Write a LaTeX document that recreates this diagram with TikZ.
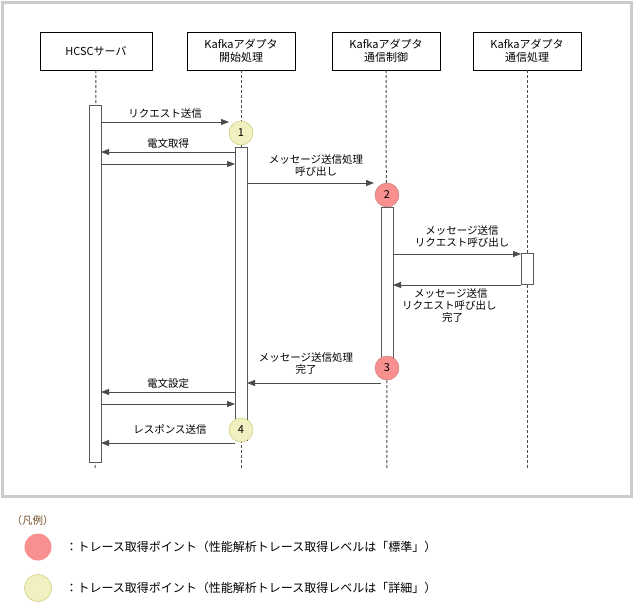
\documentclass[tikz,border=0pt]{standalone}
\usepackage{fontspec}
\setmainfont{Noto Sans CJK JP}
\usetikzlibrary{arrows.meta}

\definecolor{ptred}{HTML}{F89090}
\definecolor{ptyel}{HTML}{F0F0C0}
\tikzset{
  head/.style={draw, minimum width=108pt, minimum height=38pt, align=center, font=\fontsize{11}{13}\selectfont},
  life/.style={densely dashed, line width=1pt, gray!60!black},
  act/.style={draw, gray!70!black, fill=white, line width=0.8pt},
  msg/.style={-{Triangle[length=8pt,width=6pt]}, gray!60!black, line width=0.8pt},
  lbl/.style={font=\fontsize{10.5}{12}\selectfont, align=center, text=black},
  std/.style={circle, draw=ptred!80!black, fill=ptred, minimum size=24pt, inner sep=0pt, font=\fontsize{11}{12}\selectfont},
  det/.style={circle, draw=olive!50, fill=ptyel, minimum size=24pt, inner sep=0pt, font=\fontsize{11}{12}\selectfont}
}

\begin{document}
\begin{tikzpicture}[x=1pt, y=-1pt]
  \useasboundingbox (0,0) rectangle (634,603);

  % frame
  \draw[gray!40, line width=3pt] (2,2) rectangle (631,496);

  % heads
  \node[head, minimum width=112pt] (hcsc) at (96,51) {HCSCサーバ};
  \node[head] (start) at (241,51) {Kafkaアダプタ\\開始処理};
  \node[head] (ctrl) at (386,51) {Kafkaアダプタ\\通信制御};
  \node[head] (proc) at (527,51) {Kafkaアダプタ\\通信処理};

  % lifelines
  \draw[life] (hcsc.south) -- (95,470);
  \draw[life] (start.south) -- (241,470);
  \draw[life] (ctrl.south) -- (387,470);
  \draw[life] (proc.south) -- (527,470);

  % activations
  \draw[act] (89,105) rectangle (101,462);
  \draw[act] (235,147) rectangle (247,440);
  \draw[act] (381,207) rectangle (393,360);
  \draw[act] (521,253) rectangle (533,284);

  % trace points
  \node[det] (p1) at (241,133) {1};
  \node[std] (p2) at (387,195) {2};
  \node[std] (p3) at (387,368) {3};
  \node[det] (p4) at (241,430) {4};

  % messages
  \coordinate (a1) at (101,122); \coordinate (b1) at (229,122);
  \draw[msg] (a1) -- node[lbl, above] {リクエスト送信} (b1);
  \coordinate (a2) at (235,152); \coordinate (b2) at (101,152);
  \draw[msg] (a2) -- node[lbl, above] {電文取得} (b2);
  \coordinate (a3) at (101,164); \coordinate (b3) at (235,164);
  \draw[msg] (a3) -- (b3);
  \coordinate (a4) at (247,183); \coordinate (b4) at (374,183);
  \draw[msg] (a4) -- (b4);
  \node[lbl] (t4) at (316,166) {メッセージ送信処理\\呼び出し};
  \coordinate (a5) at (393,254); \coordinate (b5) at (521,254);
  \draw[msg] (a5) -- (b5);
  \node[lbl] (t5) at (462,237) {メッセージ送信\\リクエスト呼び出し};
  \coordinate (a6) at (521,285); \coordinate (b6) at (393,285);
  \draw[msg] (a6) -- (b6);
  \node[lbl, align=left, anchor=north west, inner sep=0pt] (t6) at (402,288) {\hspace*{12pt}メッセージ送信\\リクエスト呼び出し\\\hspace*{40pt}完了};
  \coordinate (a7) at (381,383); \coordinate (b7) at (247,383);
  \draw[msg] (a7) -- (b7);
  \node[lbl] (t7) at (306,364) {メッセージ送信処理\\完了};
  \coordinate (a8) at (235,392); \coordinate (b8) at (101,392);
  \draw[msg] (a8) -- node[lbl, above] {電文設定} (b8);
  \coordinate (a9) at (101,404); \coordinate (b9) at (235,404);
  \draw[msg] (a9) -- (b9);
  \coordinate (a10) at (235,443); \coordinate (b10) at (101,443);
  \draw[msg] (a10) -- (b10);
  \node[lbl] (t10) at (170,429) {レスポンス送信};

  % legend
  \node[lbl, anchor=west, text=brown!60!black] (leg) at (8,520) {（凡例）};
  \node[std, minimum size=27pt, draw=none] (lstd) at (38,547) {};
  \node[lbl, anchor=west, font=\fontsize{12}{14}\selectfont] (tstd) at (62,547) {：トレース取得ポイント（性能解析トレース取得レベルは「標準」）};
  \node[det, minimum size=27pt] (ldet) at (38,588) {};
  \node[lbl, anchor=west, font=\fontsize{12}{14}\selectfont] (tdet) at (62,588) {：トレース取得ポイント（性能解析トレース取得レベルは「詳細」）};
\end{tikzpicture}
\end{document}
